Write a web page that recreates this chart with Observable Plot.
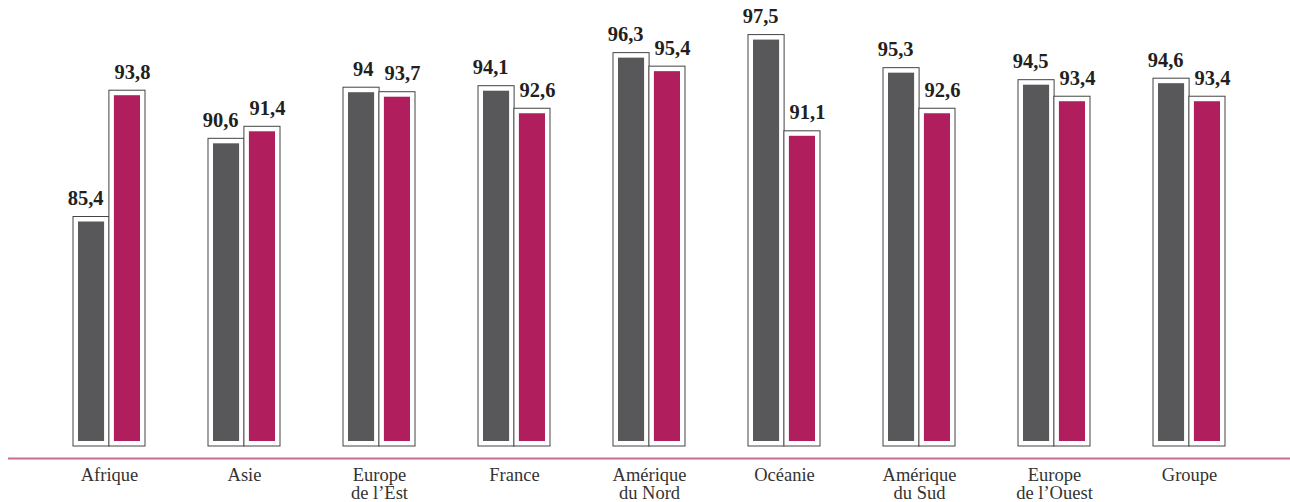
<!DOCTYPE html>
<html>
<head>
<meta charset="utf-8">
<script src="https://cdn.jsdelivr.net/npm/d3@7"></script>
<script src="https://cdn.jsdelivr.net/npm/@observablehq/plot@0.6"></script>
<style>
  html, body { margin: 0; padding: 0; background: #fff; }
  #chart svg { display: block; }
</style>
</head>
<body>
<div id="chart"></div>
<script>
const categories = ["Afrique", "Asie", "Europe de l’Est", "France", "Amérique du Nord", "Océanie", "Amérique du Sud", "Europe de l’Ouest", "Groupe"];
const tickLabels = ["Afrique", "Asie", "Europe\nde l’Est", "France", "Amérique\ndu Nord", "Océanie", "Amérique\ndu Sud", "Europe\nde l’Ouest", "Groupe"];
const seriesGrey = [85.4, 90.6, 94, 94.1, 96.3, 97.5, 95.3, 94.5, 94.6];
const seriesMagenta = [93.8, 91.4, 93.7, 92.6, 95.4, 91.1, 92.6, 93.4, 93.4];

const base = 70.8;
const dataGrey = categories.map((c, i) => ({cat: c, v: seriesGrey[i]}));
const dataMagenta = categories.map((c, i) => ({cat: c, v: seriesMagenta[i]}));
const labelOf = new Map(categories.map((c, i) => [c, tickLabels[i]]));
const fmt = v => String(v).replace(".", ",");

const half = 35.9;
const outline = {fill: "white", stroke: "#444", strokeWidth: 1, insetTop: -5, insetBottom: -5};
const serif = "'Liberation Serif', 'Times New Roman', serif";

const chart = Plot.plot({
  width: 1290,
  height: 502,
  marginLeft: 8,
  marginRight: 0,
  marginTop: 2,
  marginBottom: 61,
  style: {fontFamily: serif, background: "white"},
  x: {domain: categories, padding: 0.47, label: null},
  y: {domain: [base, 100], axis: null},
  marks: [
    Plot.ruleY([base], {dy: 17, stroke: "#cc6b96", strokeWidth: 2}),
    Plot.barY(dataGrey, {x: "cat", y1: base, y2: "v", ...outline, insetRight: half}),
    Plot.barY(dataMagenta, {x: "cat", y1: base, y2: "v", ...outline, insetLeft: half}),
    Plot.barY(dataGrey, {x: "cat", y1: base, y2: "v", fill: "#58585a", insetLeft: 5, insetRight: half + 5}),
    Plot.barY(dataMagenta, {x: "cat", y1: base, y2: "v", fill: "#b01e5e", insetLeft: half + 5, insetRight: 5}),
    Plot.text(dataGrey, {x: "cat", y: "v", text: d => fmt(d.v), textAnchor: "end", lineAnchor: "bottom", dx: -6, dy: -17, fontSize: 20.5, fontWeight: "bold", fill: "#231f20"}),
    Plot.text(dataMagenta, {x: "cat", y: "v", text: d => fmt(d.v), textAnchor: "start", lineAnchor: "bottom", dx: 5, dy: -17, fontSize: 20.5, fontWeight: "bold", fill: "#231f20"}),
    Plot.axisX({tickSize: 0, tickPadding: 26, tickFormat: c => labelOf.get(c), fontSize: 18.5, fill: "#333", label: null, lineHeight: 1})
  ]
});
document.getElementById("chart").appendChild(chart);
</script>
</body>
</html>
